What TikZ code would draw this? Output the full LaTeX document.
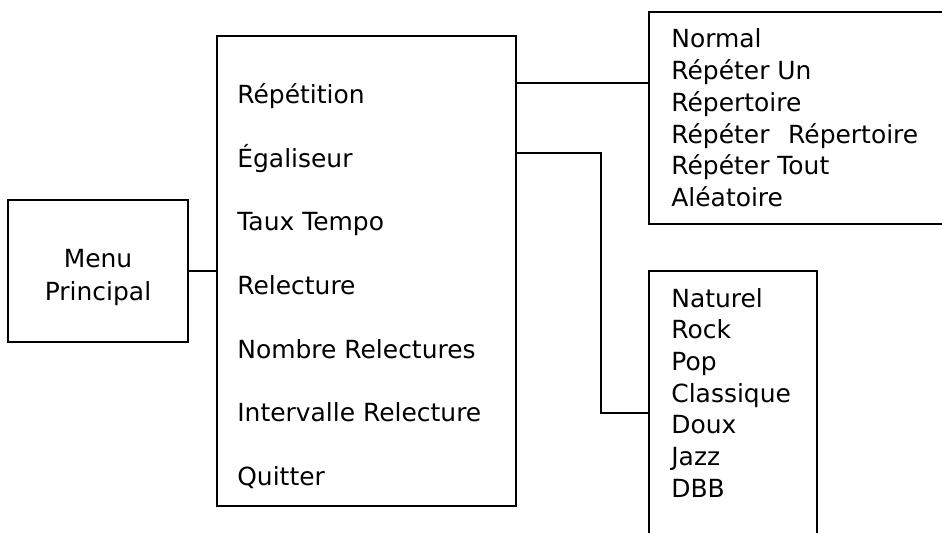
\documentclass[tikz,border=0pt]{standalone}
\usepackage{fontspec}
\setmainfont{DejaVu Sans}

\begin{document}
\begin{tikzpicture} [x = 0.02cm, y = -0.02cm, font = \fontsize{14.2pt}{17pt}\selectfont]
\tikzset{box/.style = {draw, line width = 0.75pt, inner sep = 0pt}, wire/.style = {line width = 0.6pt}, item/.style = {anchor = base west, inner sep = 0pt}}

\useasboundingbox (0, 0) rectangle (942, 533);
\clip (0, 0) rectangle (942, 533);

\node[box, minimum width = 3.6cm, minimum height = 2.84cm] (menu) at (98, 271){};
\node[anchor = base, inner sep = 0pt] (menu1) at (98, 268){Menu};\node[anchor = base, inner sep = 0pt] (menu2) at (98, 300){Principal};

\node[box, minimum width = 5.98cm, minimum height = 9.4cm] (main) at (366.5, 271){};
\foreach \t [count = \i] in {Répétition, Égaliseur, Taux Tempo, Relecture, Nombre Relectures, Intervalle Relecture, Quitter}
  \node[item] (main\i) at (237, 40.5 + 63.5*\i){\t};

\node[box, minimum width = 6.22cm, minimum height = 4.24cm] (rep) at (804.5, 118){};
\foreach \t [count = \i] in {Normal, Répéter Un, Répertoire, Répéter\hspace{0.75em}Répertoire, Répéter Tout, Aléatoire}
  \node[item] (rep\i) at (671, 16.3 + 31.7*\i){\t};

\node[box, minimum width = 3.36cm, minimum height = 5.78cm] (eq) at (733, 415.5){};
\foreach \t [count = \i] in {Naturel, Rock, Pop, Classique, Doux, Jazz, DBB}
  \node[item] (eq\i) at (671, 275.3 + 31.7*\i){\t};

\draw[wire] (menu.east) -- (main.west);
\draw[wire] (main.east |- 0, 83) -- (rep.west |- 0, 83);
\draw[wire] (main.east |- 0, 153) -| (601, 413) -- (eq.west |- 0, 413);
\end{tikzpicture}
\end{document}
